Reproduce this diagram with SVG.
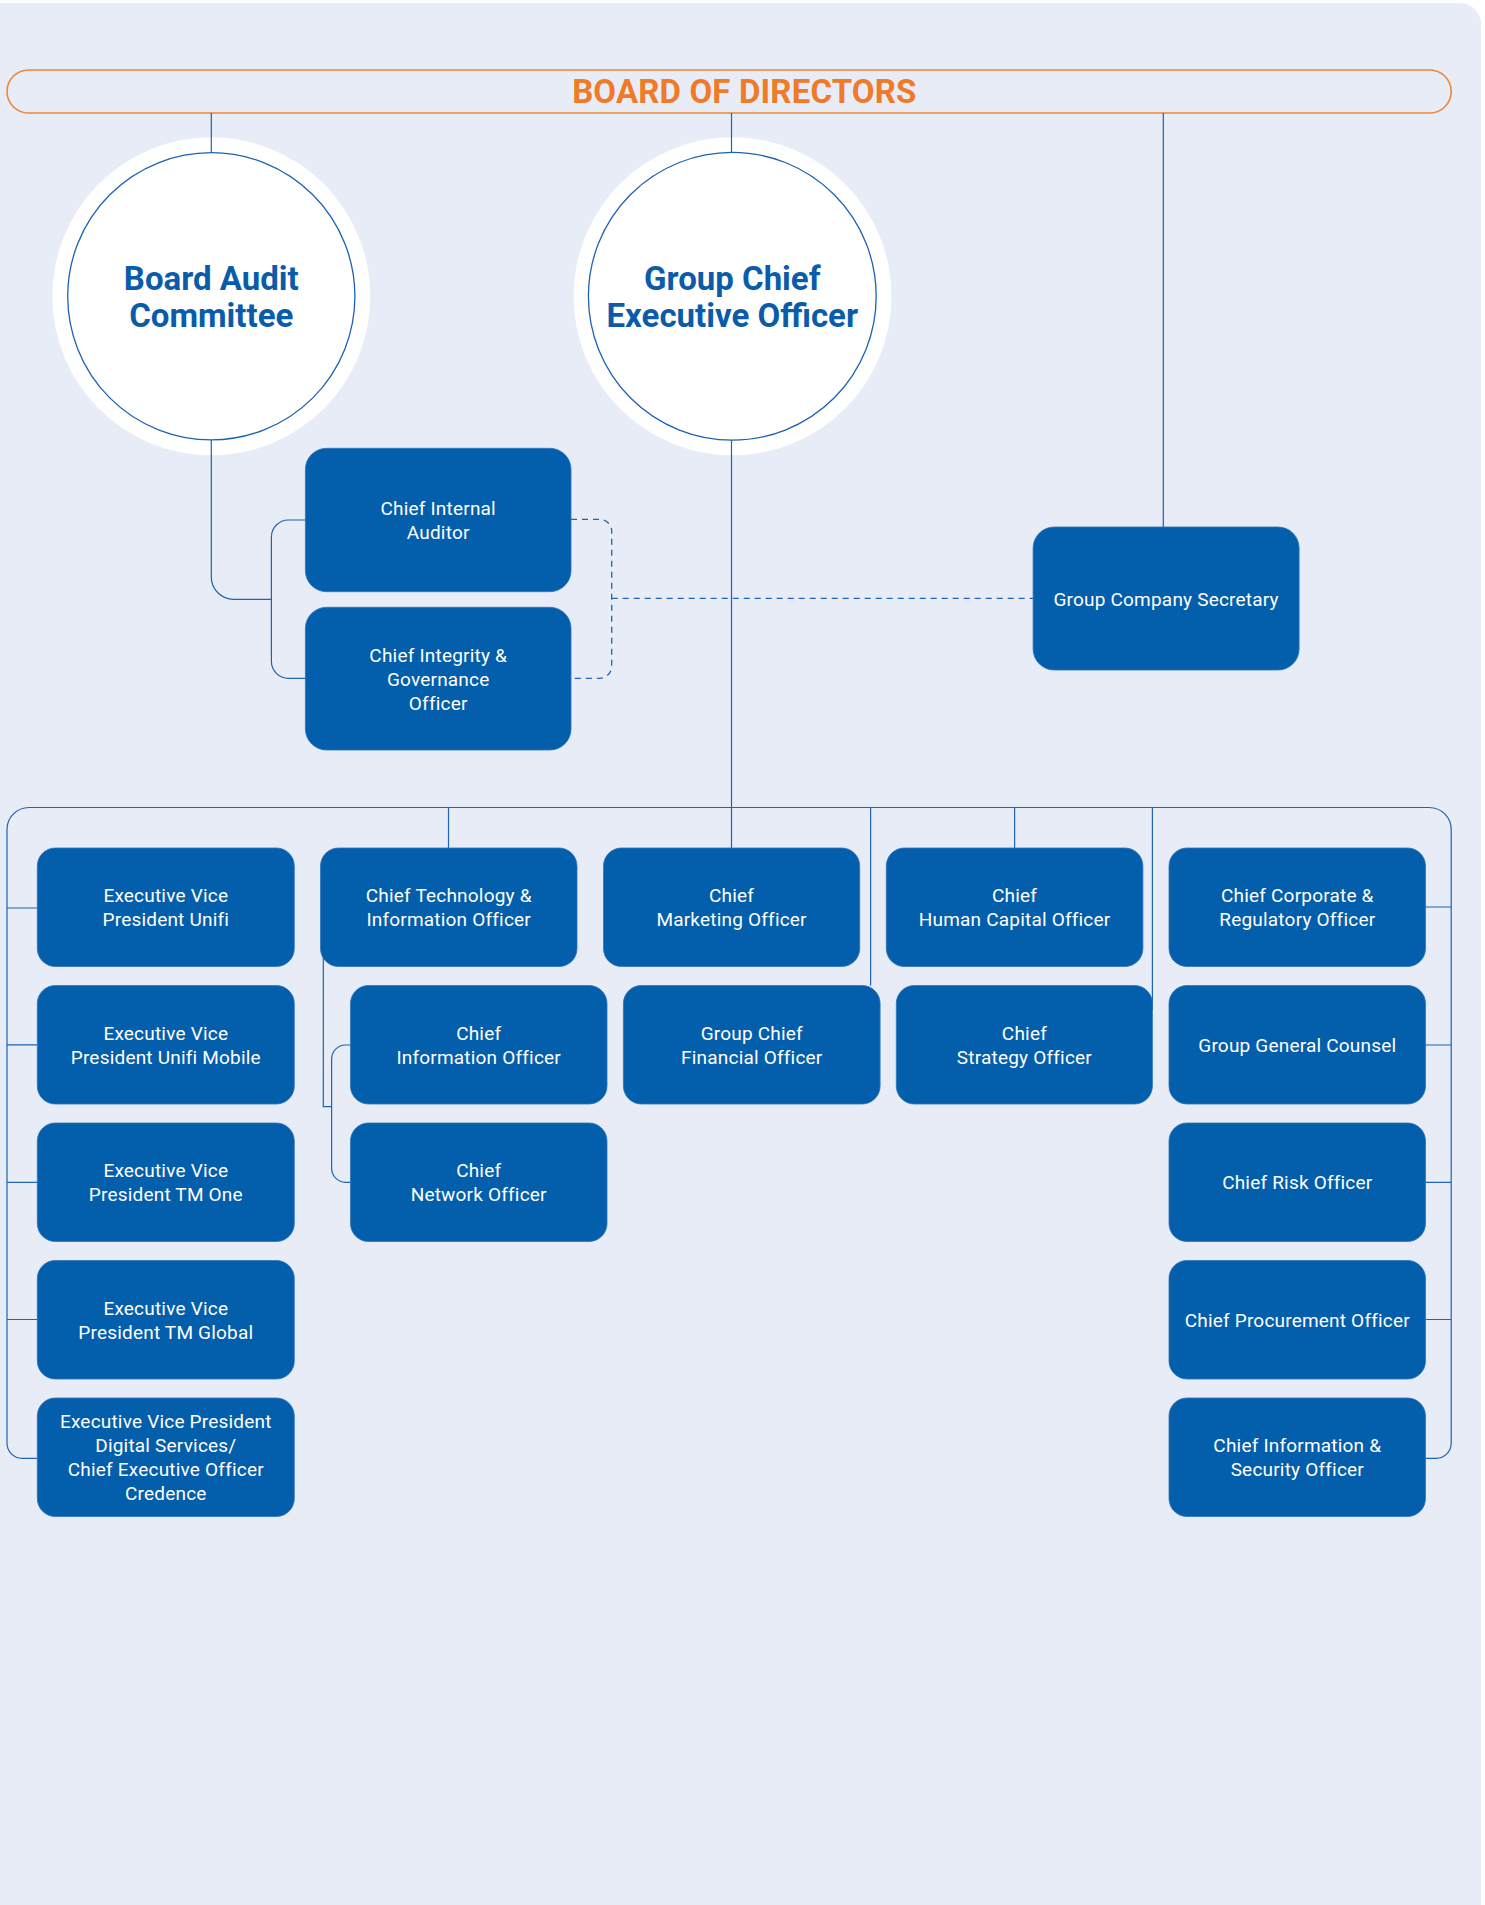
<svg xmlns="http://www.w3.org/2000/svg" width="1485" height="1905" viewBox="0 0 1485 1905">
  <style>
    .panel { fill: #E7ECF6; }
    .board { fill: none; stroke: #F08634; stroke-width: 1.6; }
    .board-title { font-family: Roboto, "Liberation Sans", sans-serif; font-weight: 700; font-size: 33px; letter-spacing: 0.15px; fill: #F07A26; text-anchor: middle; }
    .halo { fill: #FFFFFF; }
    .ring { fill: #FFFFFF; stroke: #1B63B2; stroke-width: 1.3; }
    .ring-label { font-family: Roboto, "Liberation Sans", sans-serif; font-weight: 700; font-size: 33px; fill: #0A5CAA; text-anchor: middle; }
    .box { fill: #035EAB; stroke: #2C73BC; stroke-width: 0.8; }
    .label { font-family: Roboto, "Liberation Sans", sans-serif; font-size: 19px; letter-spacing: 0.2px; fill: #FFFFFF; text-anchor: middle; }
    .link { fill: none; stroke: #1D64B2; stroke-width: 1.2; }
    .dashed { fill: none; stroke: #1D64B2; stroke-width: 1.3; stroke-dasharray: 6 5; }
  </style>

  <!-- page backdrop -->
  <rect x="0" y="0" width="1485" height="1905" fill="#FFFFFF"/>
  <path class="panel" d="M0 3 H1460 A21 21 0 0 1 1481 24 V1905 H0 Z"/>

  <!-- board banner -->
  <g id="board-of-directors">
    <rect class="board" x="7" y="70" width="1444.2" height="43" rx="21.5"/>
    <text class="board-title" x="744.3" y="102.7">BOARD OF DIRECTORS</text>
  </g>

  <!-- committee and chief executive circles -->
  <g id="board-audit-committee">
    <circle class="halo" cx="211.3" cy="296.3" r="159"/>
    <circle class="ring" cx="211.3" cy="296.3" r="143.6"/>
    <text class="ring-label" x="211.3" y="290">Board Audit</text>
    <text class="ring-label" x="211.3" y="326.7">Committee</text>
  </g>
  <g id="group-ceo">
    <circle class="halo" cx="732.5" cy="296.3" r="159"/>
    <circle class="ring" cx="732.3" cy="296.3" r="143.9"/>
    <text class="ring-label" x="732.3" y="290">Group Chief</text>
    <text class="ring-label" x="732.3" y="326.7">Executive Officer</text>
  </g>

  <!-- reporting lines -->
  <g id="connectors">
    <path class="link" d="M211.3 113 V152.7"/>
    <path class="link" d="M731.5 113 V152.4"/>
    <path class="link" d="M1163.3 113 V527"/>
    <path class="link" d="M211.3 439.9 V577 A22.3 22.3 0 0 0 233.6 599.3 H271.4"/>
    <path class="link" d="M305.4 520 H288.4 A17 17 0 0 0 271.4 537 V661.3 A17 17 0 0 0 288.4 678.3 H305.4"/>
    <path class="link" d="M731.5 440.2 V848"/>
    <path class="link" d="M37.3 1458.3 H22 A15 15 0 0 1 7 1443.3 V829.5 A22 22 0 0 1 29 807.5 H1429.2 A22 22 0 0 1 1451.2 829.5 V1443.3 A15 15 0 0 1 1436.2 1458.3 H1425.5"/>
    <path class="link" d="M7 908 H37.3 M7 1044.8 H37.3 M7 1182.3 H37.3 M7 1319.5 H37.3"/>
    <path class="link" d="M1425.5 907 H1451.2 M1425.5 1045 H1451.2 M1425.5 1182.3 H1451.2 M1425.5 1319.5 H1451.2"/>
    <path class="link" d="M448.5 807.5 V848 M870.6 807.5 V985.5 M1014.6 807.5 V848 M1152.4 807.5 V1010"/>
    <path class="link" d="M323.3 945 V1106.7 H331.6"/>
    <path class="link" d="M350.5 1045 H345.6 A14 14 0 0 0 331.6 1059 V1168.3 A14 14 0 0 0 345.6 1182.3 H350.5"/>
    <path class="dashed" d="M571 519.3 H599.7 A12 12 0 0 1 611.7 531.3 V666.3 A12 12 0 0 1 599.7 678.3 H571"/>
    <path class="dashed" d="M611.7 598.3 H1033.1"/>
  </g>

  <!-- offices under the audit committee -->
  <g id="chief-internal-auditor">
    <rect class="box" x="305.4" y="448.3" width="265.6" height="143.4" rx="21"/>
    <text class="label" x="438.2" y="515">Chief Internal</text>
    <text class="label" x="438.2" y="539">Auditor</text>
  </g>
  <g id="chief-integrity-governance-officer">
    <rect class="box" x="305.4" y="607.3" width="265.6" height="142.7" rx="21"/>
    <text class="label" x="438.2" y="661.7">Chief Integrity &amp;</text>
    <text class="label" x="438.2" y="685.7">Governance</text>
    <text class="label" x="438.2" y="709.7">Officer</text>
  </g>
  <g id="group-company-secretary">
    <rect class="box" x="1033.1" y="527" width="266" height="143" rx="21"/>
    <text class="label" x="1166.1" y="605.5">Group Company Secretary</text>
  </g>

  <!-- executive vice presidents -->
  <g id="evp-unifi">
    <rect class="box" x="37.3" y="848" width="257" height="118.5" rx="18"/>
    <text class="label" x="165.8" y="902.3">Executive Vice</text>
    <text class="label" x="165.8" y="926.3">President Unifi</text>
  </g>
  <g id="evp-unifi-mobile">
    <rect class="box" x="37.3" y="985.5" width="257" height="118.5" rx="18"/>
    <text class="label" x="165.8" y="1039.8">Executive Vice</text>
    <text class="label" x="165.8" y="1063.8">President Unifi Mobile</text>
  </g>
  <g id="evp-tm-one">
    <rect class="box" x="37.3" y="1123" width="257" height="118.5" rx="18"/>
    <text class="label" x="165.8" y="1177.3">Executive Vice</text>
    <text class="label" x="165.8" y="1201.3">President TM One</text>
  </g>
  <g id="evp-tm-global">
    <rect class="box" x="37.3" y="1260.5" width="257" height="118.5" rx="18"/>
    <text class="label" x="165.8" y="1314.8">Executive Vice</text>
    <text class="label" x="165.8" y="1338.8">President TM Global</text>
  </g>
  <g id="evp-digital-services">
    <rect class="box" x="37.3" y="1398" width="257" height="118.5" rx="18"/>
    <text class="label" x="165.8" y="1428.3">Executive Vice President</text>
    <text class="label" x="165.8" y="1452.3">Digital Services/</text>
    <text class="label" x="165.8" y="1476.3">Chief Executive Officer</text>
    <text class="label" x="165.8" y="1500.3">Credence</text>
  </g>

  <!-- technology group -->
  <g id="chief-technology-information-officer">
    <rect class="box" x="320.5" y="848" width="256.5" height="118.5" rx="18"/>
    <text class="label" x="448.7" y="902.3">Chief Technology &amp;</text>
    <text class="label" x="448.7" y="926.3">Information Officer</text>
  </g>
  <g id="chief-information-officer">
    <rect class="box" x="350.5" y="985.5" width="256.5" height="118.5" rx="18"/>
    <text class="label" x="478.7" y="1039.8">Chief</text>
    <text class="label" x="478.7" y="1063.8">Information Officer</text>
  </g>
  <g id="chief-network-officer">
    <rect class="box" x="350.5" y="1123" width="256.5" height="118.5" rx="18"/>
    <text class="label" x="478.7" y="1177.3">Chief</text>
    <text class="label" x="478.7" y="1201.3">Network Officer</text>
  </g>

  <!-- central functions -->
  <g id="chief-marketing-officer">
    <rect class="box" x="603.5" y="848" width="256.2" height="118.5" rx="18"/>
    <text class="label" x="731.6" y="902.3">Chief</text>
    <text class="label" x="731.6" y="926.3">Marketing Officer</text>
  </g>
  <g id="group-chief-financial-officer">
    <rect class="box" x="623.4" y="985.5" width="256.7" height="118.5" rx="18"/>
    <text class="label" x="751.8" y="1039.8">Group Chief</text>
    <text class="label" x="751.8" y="1063.8">Financial Officer</text>
  </g>
  <g id="chief-human-capital-officer">
    <rect class="box" x="886.3" y="848" width="256.6" height="118.5" rx="18"/>
    <text class="label" x="1014.6" y="902.3">Chief</text>
    <text class="label" x="1014.6" y="926.3">Human Capital Officer</text>
  </g>
  <g id="chief-strategy-officer">
    <rect class="box" x="896.3" y="985.5" width="256.1" height="118.5" rx="18"/>
    <text class="label" x="1024.4" y="1039.8">Chief</text>
    <text class="label" x="1024.4" y="1063.8">Strategy Officer</text>
  </g>

  <!-- governance and control column -->
  <g id="chief-corporate-regulatory-officer">
    <rect class="box" x="1169" y="848" width="256.5" height="118.5" rx="18"/>
    <text class="label" x="1297.3" y="902.3">Chief Corporate &amp;</text>
    <text class="label" x="1297.3" y="926.3">Regulatory Officer</text>
  </g>
  <g id="group-general-counsel">
    <rect class="box" x="1169" y="985.5" width="256.5" height="118.5" rx="18"/>
    <text class="label" x="1297.3" y="1051.8">Group General Counsel</text>
  </g>
  <g id="chief-risk-officer">
    <rect class="box" x="1169" y="1123" width="256.5" height="118.5" rx="18"/>
    <text class="label" x="1297.3" y="1189.3">Chief Risk Officer</text>
  </g>
  <g id="chief-procurement-officer">
    <rect class="box" x="1169" y="1260.5" width="256.5" height="118.5" rx="18"/>
    <text class="label" x="1297.3" y="1326.8">Chief Procurement Officer</text>
  </g>
  <g id="chief-information-security-officer">
    <rect class="box" x="1169" y="1398" width="256.5" height="118.5" rx="18"/>
    <text class="label" x="1297.3" y="1452.3">Chief Information &amp;</text>
    <text class="label" x="1297.3" y="1476.3">Security Officer</text>
  </g>
</svg>
